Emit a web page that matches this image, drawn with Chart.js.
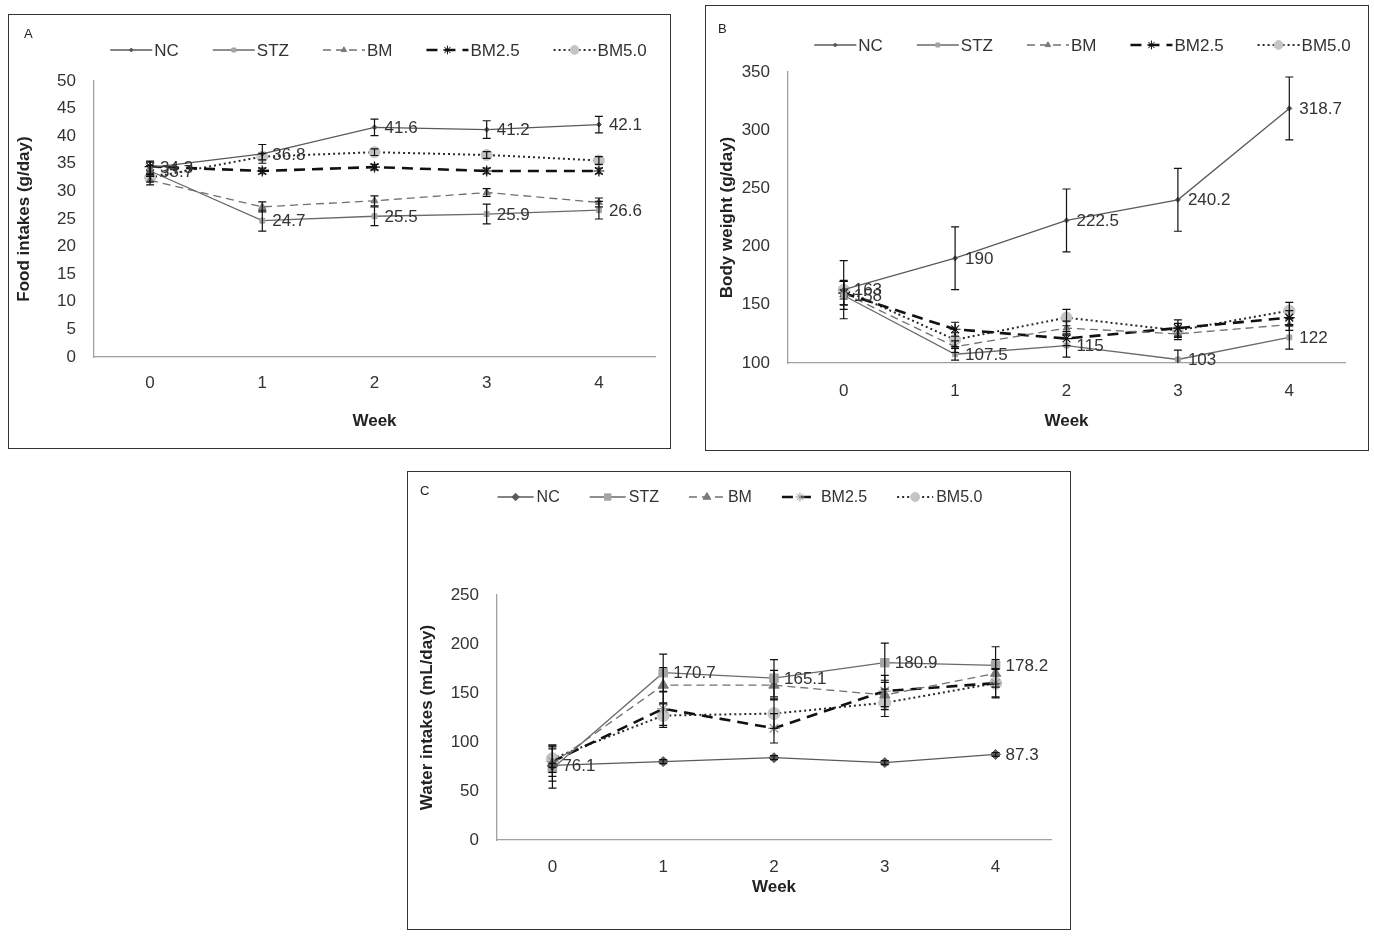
<!DOCTYPE html>
<html lang="en">
<head>
    <meta charset="UTF-8">
    <title>Food intake, body weight and water intake</title>
    <style>
        body { margin: 0; background: #fff; width: 1374px; height: 941px; position: relative; font-family: "Liberation Sans Narrow", "Liberation Sans", Arial, sans-serif; }
        .panel { position: absolute; border: 1px solid #333; background: #fff; }
        .panel canvas { position: absolute; left: 0; top: 0; }
        .tag { position: absolute; font: 13px "Liberation Sans", Arial, sans-serif; color: #222; z-index: 2; }
    </style>
</head>
<body>
    <div class="panel" style="left:8px;top:14px;width:661px;height:433px">
        <span class="tag" style="left:15px;top:11px">A</span>
        <canvas id="chartA" width="661" height="433"></canvas>
    </div>
    <div class="panel" style="left:705px;top:5px;width:662px;height:444px">
        <span class="tag" style="left:12px;top:15px">B</span>
        <canvas id="chartB" width="662" height="444"></canvas>
    </div>
    <div class="panel" style="left:407px;top:471px;width:662px;height:457px">
        <span class="tag" style="left:12px;top:11px">C</span>
        <canvas id="chartC" width="662" height="457"></canvas>
    </div>

    <script src="https://cdn.jsdelivr.net/npm/chart.js"></script>
    <script>
        // weeks on the x axis
        const weeks = ['0', '1', '2', '3', '4'];
        const groups = ['NC', 'STZ', 'BM', 'BM2.5', 'BM5.0'];

        // A - food intakes (g/day)
        const foodNC = [34.3, 36.8, 41.6, 41.2, 42.1];
        const foodSTZ = [33.7, 24.7, 25.5, 25.9, 26.6];
        const foodBM = [32.0, 27.2, 28.3, 29.8, 28.0];
        const foodBM25 = [34.5, 33.7, 34.4, 33.7, 33.7];
        const foodBM50 = [32.5, 36.3, 37.1, 36.6, 35.6];
        const foodErrNC = [1.2, 1.7, 1.5, 1.6, 1.5];
        const foodErrSTZ = [1.0, 1.9, 1.7, 1.8, 1.6];
        const foodErrBM = [0.8, 0.9, 0.9, 0.7, 0.8];
        const foodErrBM25 = [0.8, 0.5, 0.5, 0.5, 0.5];
        const foodErrBM50 = [0.8, 0.6, 0.6, 0.6, 0.7];
        const foodLabNC = ['34.3', '36.8', '41.6', '41.2', '42.1'];
        const foodLabSTZ = ['33.7', '24.7', '25.5', '25.9', '26.6'];

        // B - body weight
        const bwNC = [163, 190, 222.5, 240.2, 318.7];
        const bwSTZ = [158, 107.5, 115, 103, 122];
        const bwBM = [160, 114, 130, 125, 133];
        const bwBM25 = [160, 129, 121, 130, 139];
        const bwBM50 = [163, 120, 139, 128, 145];
        const bwErrNC = [25, 27, 27, 27, 27];
        const bwErrSTZ = [12, 5, 10, 8, 10];
        const bwErrBM = [10, 5, 6, 5, 5];
        const bwErrBM25 = [10, 6, 6, 7, 6];
        const bwErrBM50 = [8, 6, 7, 6, 7];
        const bwLabNC = ['163', '190', '222.5', '240.2', '318.7'];
        const bwLabSTZ = ['158', '107.5', '115', '103', '122'];

        // C - water intakes (mL/day)
        const wNC = [76.1, 80, 84, 79, 87.3];
        const wSTZ = [73, 170.7, 165.1, 180.9, 178.2];
        const wBM = [78, 158, 158, 148, 170];
        const wBM25 = [80, 134, 114, 152, 160];
        const wBM50 = [83, 127, 129, 140, 160];
        const wErrNC = [2, 2, 2, 2, 2];
        const wErrSTZ = [20, 19, 19, 20, 19];
        const wErrBM = [18, 18, 15, 15, 14];
        const wErrBM25 = [15, 17, 15, 16, 15];
        const wErrBM50 = [14, 12, 15, 14, 14];
        const wLabNC = ['76.1', null, null, null, '87.3'];
        const wLabSTZ = [null, '170.7', '165.1', '180.9', '178.2'];

        const FONT = '"Liberation Sans Narrow", "Liberation Sans", Arial, sans-serif';
        const TITLE_FONT = '"Liberation Sans", Arial, sans-serif';

        // error bars drawn from each dataset's errors array
        const errorBars = {
            id: 'errorBars',
            afterDatasetsDraw(chart) {
                const ctx = chart.ctx;
                const y = chart.scales.y;
                Chart.helpers.clipArea(ctx, chart.chartArea);
                ctx.save();
                ctx.strokeStyle = '#111';
                ctx.lineWidth = 1.2;
                chart.data.datasets.forEach((ds, i) => {
                    if (!ds.errors) return;
                    chart.getDatasetMeta(i).data.forEach((pt, j) => {
                        const v = ds.data[j], e = ds.errors[j];
                        const top = y.getPixelForValue(v + e);
                        const bot = y.getPixelForValue(v - e);
                        ctx.beginPath();
                        ctx.moveTo(pt.x, top); ctx.lineTo(pt.x, bot);
                        ctx.moveTo(pt.x - 4, top); ctx.lineTo(pt.x + 4, top);
                        ctx.moveTo(pt.x - 4, bot); ctx.lineTo(pt.x + 4, bot);
                        ctx.stroke();
                    });
                });
                ctx.restore();
                Chart.helpers.unclipArea(ctx);
            }
        };

        // value labels to the right of points
        const valueLabels = {
            id: 'valueLabels',
            afterDatasetsDraw(chart) {
                const ctx = chart.ctx;
                ctx.save();
                ctx.font = '17px ' + FONT;
                ctx.fillStyle = '#333';
                ctx.textBaseline = 'middle';
                chart.data.datasets.forEach((ds, i) => {
                    if (!ds.valueLabels) return;
                    chart.getDatasetMeta(i).data.forEach((pt, j) => {
                        const t = ds.valueLabels[j];
                        if (t) ctx.fillText(t, pt.x + 10, pt.y + 1);
                    });
                });
                ctx.restore();
            }
        };

        // legend with a line segment and marker, like the original
        const lineLegend = {
            id: 'lineLegend',
            afterDraw(chart, args, opts) {
                const ctx = chart.ctx;
                ctx.save();
                ctx.font = opts.size + 'px ' + FONT;
                const sets = chart.data.datasets;
                const widths = sets.map(ds => opts.lineLen + opts.textGap + ctx.measureText(ds.label).width);
                const total = widths.reduce((a, b) => a + b, 0) + opts.gap * (sets.length - 1);
                let x = (chart.chartArea.left + chart.chartArea.right) / 2 - total / 2 + opts.shift;
                const y = opts.y;
                sets.forEach((ds, i) => {
                    ctx.strokeStyle = ds.borderColor;
                    ctx.lineWidth = ds.borderWidth;
                    ctx.setLineDash(ds.borderDash || []);
                    ctx.beginPath();
                    ctx.moveTo(x, y); ctx.lineTo(x + opts.lineLen, y);
                    ctx.stroke();
                    ctx.setLineDash([]);
                    ctx.lineWidth = 1;
                    ctx.fillStyle = ds.pointBackgroundColor;
                    ctx.strokeStyle = ds.pointBorderColor;
                    Chart.helpers.drawPoint(ctx, {
                        pointStyle: ds.pointStyle, radius: ds.pointRadius * opts.markScale,
                        borderWidth: 1, rotation: 0
                    }, x + opts.lineLen / 2, y);
                    ctx.fillStyle = '#333';
                    ctx.textBaseline = 'middle';
                    ctx.fillText(ds.label, x + opts.lineLen + opts.textGap, y + 1);
                    x += widths[i] + opts.gap;
                });
                ctx.restore();
            }
        };

        function series(big) {
            // line and marker styles for the five groups
            return [
                { borderColor: '#5a5a5a', borderWidth: 1.3, borderDash: [], pointStyle: 'rectRot',
                  pointRadius: big ? 5 : 2.5, pointBackgroundColor: '#5a5a5a', pointBorderColor: '#5a5a5a', pointBorderWidth: 1 },
                { borderColor: '#6a6a6a', borderWidth: 1.3, borderDash: [], pointStyle: 'rect',
                  pointRadius: big ? 6 : 3.5, pointBackgroundColor: '#a5a5a5', pointBorderColor: '#a5a5a5', pointBorderWidth: 1 },
                { borderColor: '#707070', borderWidth: 1.3, borderDash: [8, 5], pointStyle: 'triangle',
                  pointRadius: big ? 6 : 4, pointBackgroundColor: '#7a7a7a', pointBorderColor: '#7a7a7a', pointBorderWidth: 1 },
                { borderColor: '#111', borderWidth: 2.6, borderDash: [11, 7], pointStyle: 'star',
                  pointRadius: big ? 6 : 5.5, pointBackgroundColor: '#888', pointBorderColor: big ? '#999' : '#111', pointBorderWidth: 1.2 },
                { borderColor: '#2a2a2a', borderWidth: 2, borderDash: [2, 3], pointStyle: 'circle',
                  pointRadius: big ? 6 : 5.5, pointBackgroundColor: '#c4c4c4', pointBorderColor: '#c4c4c4', pointBorderWidth: 1 }
            ];
        }

        function makeChart(id, p) {
            const styles = series(p.big);
            const datasets = p.values.map((vals, i) => Object.assign({
                label: groups[i],
                data: vals,
                errors: p.errors[i],
                valueLabels: p.labels[i] || null,
                fill: false,
                tension: 0,
                pointHoverRadius: 0
            }, styles[i]));

            return new Chart(document.getElementById(id), {
                type: 'line',
                data: { labels: weeks, datasets: datasets },
                options: {
                    responsive: false,
                    animation: false,
                    devicePixelRatio: 1,
                    layout: { padding: p.padding },
                    plugins: {
                        legend: { display: false },
                        tooltip: { enabled: false },
                        lineLegend: p.legend
                    },
                    scales: {
                        x: {
                            offset: true,
                            grid: { drawOnChartArea: false, drawTicks: false },
                            border: { color: '#a0a0a0', width: 1.3 },
                            ticks: { color: '#333', padding: p.xTickPad, font: { family: FONT, size: 17 } },
                            title: { display: true, text: 'Week', color: '#222', padding: 0,
                                     font: { family: TITLE_FONT, size: 17, weight: 'bold' } },
                            afterFit(s) { s.height = p.xHeight; }
                        },
                        y: {
                            min: p.min, max: p.max,
                            grid: { drawOnChartArea: false, drawTicks: false },
                            border: { color: '#a0a0a0', width: 1.3 },
                            ticks: { stepSize: p.step, color: '#333', padding: 18, font: { family: FONT, size: 17 } },
                            title: { display: true, text: p.yTitle, color: '#222', padding: 0,
                                     font: { family: TITLE_FONT, size: 17, weight: 'bold' } },
                            afterFit(s) { s.width = p.yWidth; }
                        }
                    }
                },
                plugins: [errorBars, valueLabels, lineLegend]
            });
        }

        makeChart('chartA', {
            values: [foodNC, foodSTZ, foodBM, foodBM25, foodBM50],
            errors: [foodErrNC, foodErrSTZ, foodErrBM, foodErrBM25, foodErrBM50],
            labels: [foodLabNC, foodLabSTZ],
            min: 0, max: 50, step: 5,
            yTitle: 'Food intakes (g/day)',
            padding: { top: 66, left: 5, right: 15, bottom: 16 },
            yWidth: 80, xHeight: 75, xTickPad: 16, big: false,
            legend: { y: 35, size: 17, lineLen: 42, textGap: 2, gap: 34, shift: 4, markScale: 0.8 }
        });

        makeChart('chartB', {
            values: [bwNC, bwSTZ, bwBM, bwBM25, bwBM50],
            errors: [bwErrNC, bwErrSTZ, bwErrBM, bwErrBM25, bwErrBM50],
            labels: [bwLabNC, bwLabSTZ],
            min: 100, max: 350, step: 50,
            yTitle: 'Body weight (g/day)',
            padding: { top: 66, left: 11, right: 23, bottom: 18 },
            yWidth: 71, xHeight: 69, xTickPad: 18, big: false,
            legend: { y: 39, size: 17, lineLen: 42, textGap: 2, gap: 34, shift: 16, markScale: 0.8 }
        });

        makeChart('chartC', {
            values: [wNC, wSTZ, wBM, wBM25, wBM50],
            errors: [wErrNC, wErrSTZ, wErrBM, wErrBM25, wErrBM50],
            labels: [wLabNC, wLabSTZ],
            min: 0, max: 250, step: 50,
            yTitle: 'Water intakes (mL/day)',
            padding: { top: 123, left: 9, right: 19, bottom: 31 },
            yWidth: 80, xHeight: 58, xTickPad: 17, big: true,
            legend: { y: 25, size: 16, lineLen: 36, textGap: 3, gap: 30, shift: -34, markScale: 0.75 }
        });
    </script>
</body>
</html>
